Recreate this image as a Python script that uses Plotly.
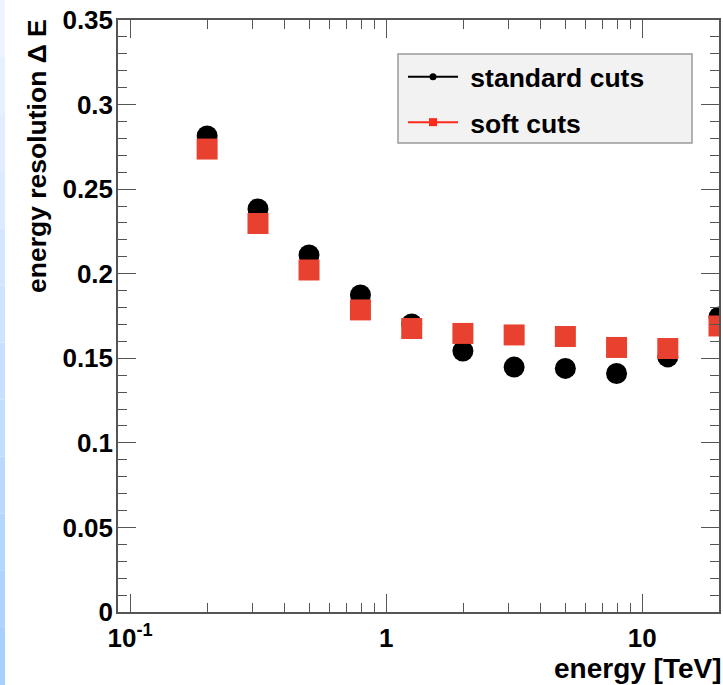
import plotly.graph_objects as go

# ---- data ----
energy_tev = [0.2, 0.316, 0.5, 0.794, 1.259, 1.995, 3.162, 5.012, 7.943, 12.59, 19.95]
standard_cuts = [0.2814, 0.2383, 0.2111, 0.1874, 0.1703, 0.1543, 0.1448, 0.1440, 0.1410, 0.1508, 0.1744]
soft_cuts = [0.2737, 0.2297, 0.2022, 0.1786, 0.1676, 0.1647, 0.1638, 0.1629, 0.1564, 0.1558, 0.1691]

x_tickvals = [0.1, 1, 10]
x_ticktext = ["10<sup>-1</sup>", "1", "10"]
x_minor = [0.2, 0.3, 0.4, 0.5, 0.6, 0.7, 0.8, 0.9, 2, 3, 4, 5, 6, 7, 8, 9]
y_tickvals = [0, 0.05, 0.1, 0.15, 0.2, 0.25, 0.3, 0.35]
y_ticktext = ["0", "0.05", "0.1", "0.15", "0.2", "0.25", "0.3", "0.35"]

RED = "#E8412F"
FONT = "Liberation Sans, Arial, Helvetica, sans-serif"
AX = "#555555"

W, H = 723, 685
ML, MR, MT, MB = 118, 4, 20, 73
PW = W - ML - MR
PH = H - MT - MB


def px_x(px):
    return (px - ML) / PW


def px_y(py):
    return (MT + PH - py) / PH


fig = go.Figure()

# data traces
fig.add_trace(go.Scatter(x=energy_tev, y=standard_cuts, mode="markers",
                         marker=dict(symbol="circle", size=21, color="black"),
                         showlegend=False, cliponaxis=True))
fig.add_trace(go.Scatter(x=energy_tev, y=soft_cuts, mode="markers",
                         marker=dict(symbol="square", size=21, color=RED),
                         showlegend=False, cliponaxis=True))
# legend entries
fig.add_trace(go.Scatter(x=[None], y=[None], mode="lines+markers", name="\u00a0standard cuts",
                         line=dict(color="black", width=2),
                         marker=dict(symbol="circle", size=7, color="black"),
                         legendgroup="a"))
fig.add_trace(go.Scatter(x=[None], y=[None], mode="lines+markers", name="\u00a0soft cuts",
                         line=dict(color="#ff2a1a", width=2),
                         marker=dict(symbol="square", size=8, color="#ff2a1a"),
                         legendgroup="b"))

axis_common = dict(
    showline=True, linecolor=AX, linewidth=1.5, mirror="ticks",
    ticks="inside", tickcolor=AX, tickwidth=1.2, ticklen=18,
    showgrid=False, zeroline=False, automargin=False,
    tickfont=dict(family=FONT, size=26, color="black", weight="bold"),
)

fig.update_xaxes(type="log", range=[-1.047, 1.3],
                 tickmode="array", tickvals=x_tickvals, ticktext=x_ticktext,
                 minor=dict(tickmode="array", tickvals=x_minor, ticks="inside",
                            ticklen=9, tickcolor=AX, tickwidth=1.2),
                 ticklabelstandoff=2,
                 **axis_common)
fig.update_yaxes(range=[0, 0.35],
                 tickmode="array", tickvals=y_tickvals, ticktext=y_ticktext,
                 minor=dict(dtick=0.01, tick0=0, ticks="inside",
                            ticklen=9, tickcolor=AX, tickwidth=1.2),
                 ticklabelstandoff=-2,
                 **axis_common)

# left decorative blue strip (slide background edge)
nstrip = 12
for i in range(nstrip):
    t = i / (nstrip - 1)
    r = int(238 + (168 - 238) * t)
    g = int(244 + (208 - 244) * t)
    fig.add_shape(type="rect", xref="paper", yref="paper",
                  x0=px_x(0), x1=px_x(5),
                  y0=px_y((i + 1) * H / nstrip), y1=px_y(i * H / nstrip),
                  line=dict(width=0), fillcolor=f"rgb({r},{g},255)", layer="below")

# legend frame
fig.add_shape(type="rect", xref="paper", yref="paper",
              x0=px_x(398), x1=px_x(692), y0=px_y(143), y1=px_y(54),
              line=dict(color="#9a9a9a", width=1.5), fillcolor="#f2f2f2", layer="above")

fig.add_annotation(text="energy resolution \u0394 E", textangle=-90,
                   xref="paper", yref="paper", x=px_x(37), y=px_y(156),
                   xanchor="center", yanchor="middle", showarrow=False,
                   font=dict(family=FONT, size=26.5, color="black", weight="bold"))
fig.add_annotation(text="energy [TeV]",
                   xref="paper", yref="paper", x=1, xshift=5, y=px_y(668),
                   xanchor="right", yanchor="middle", showarrow=False,
                   font=dict(family=FONT, size=28, color="black", weight="bold"))

fig.update_layout(
    width=W, height=H,
    margin=dict(l=ML, r=MR, t=MT, b=MB, pad=0, autoexpand=False),
    paper_bgcolor="white", plot_bgcolor="white",
    legend=dict(x=px_x(403), y=px_y(53), xanchor="left", yanchor="top",
                bgcolor="rgba(0,0,0,0)", borderwidth=0,
                font=dict(family=FONT, size=26.5, color="black", weight="bold"),
                traceorder="grouped", tracegroupgap=8, itemwidth=50),
)

fig.write_html("out.html", config={"displayModeBar": False},
               post_script="document.body.style.margin='0px';")
